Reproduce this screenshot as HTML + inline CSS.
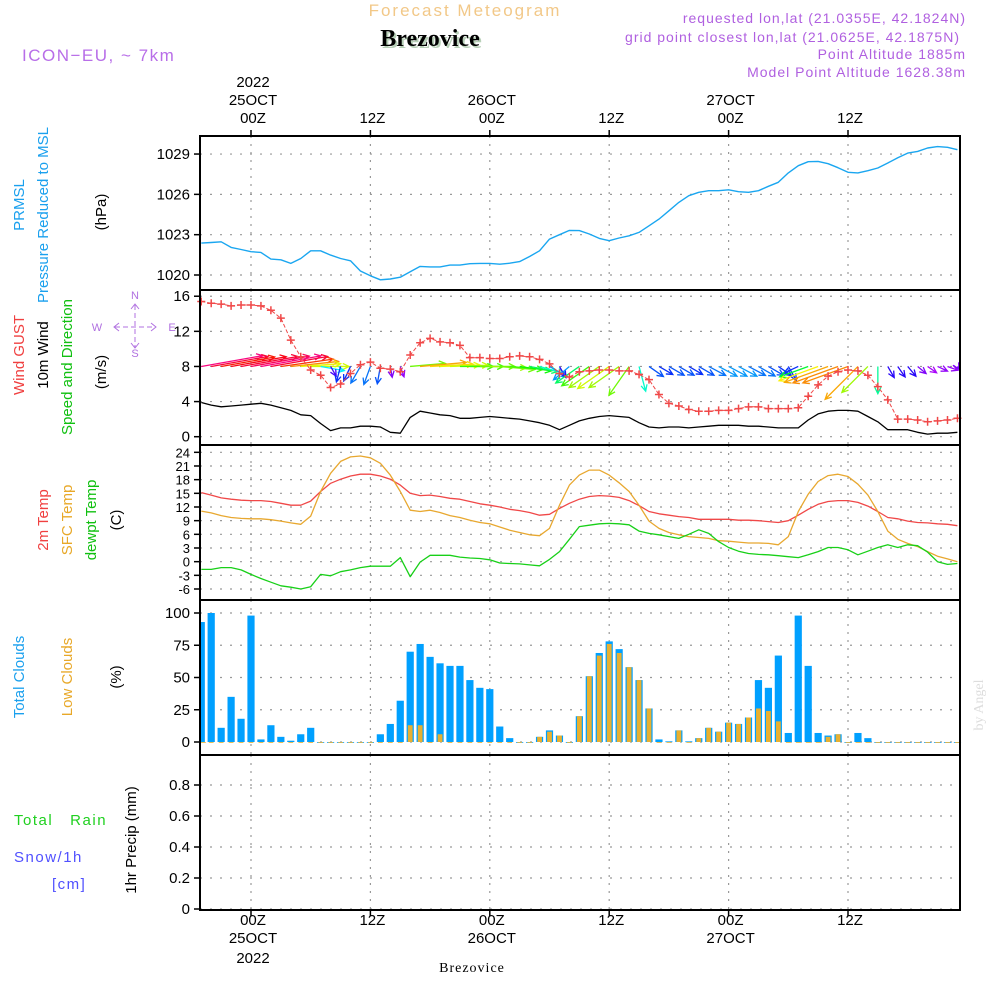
<!DOCTYPE html>
<html><head><meta charset="utf-8"><style>
html,body{margin:0;padding:0;background:#fff;}
svg{display:block;font-family:"Liberation Sans",sans-serif;}
</style></head><body>
<svg id="chart" width="1000" height="1000" viewBox="0 0 1000 1000">
<g id="header">
<text x="465" y="16" text-anchor="middle" font-size="17" fill="#f2c888" letter-spacing="2">Forecast Meteogram</text>
<text x="432" y="48" text-anchor="middle" font-size="24" font-weight="bold" font-family="Liberation Serif,serif" fill="#b8d0b8">Brezovice</text>
<text x="430" y="46" text-anchor="middle" font-size="24" font-weight="bold" font-family="Liberation Serif,serif" fill="#000">Brezovice</text>
<text x="22" y="61" font-size="17" fill="#b86ee8" letter-spacing="1.5">ICON−EU, ~ 7km</text>
<g font-size="14" fill="#b060e0" text-anchor="end" letter-spacing="1">
<text x="966" y="23">requested lon,lat (21.0355E, 42.1824N)</text>
<text x="960" y="42">grid point closest lon,lat (21.0625E, 42.1875N)</text>
<text x="966" y="59">Point Altitude 1885m</text>
<text x="966" y="77">Model Point Altitude 1628.38m</text>
</g>
</g>
<g id="grid"></g>
<g id="plots"></g>
<g id="frames"></g>
<g id="axes"></g>
<g id="labels" font-size="15">
<text transform="translate(24,205) rotate(-90)" text-anchor="middle" fill="#1aa0ee">PRMSL</text>
<text transform="translate(48,215) rotate(-90)" text-anchor="middle" fill="#1aa0ee">Pressure Reduced to MSL</text>
<text transform="translate(106,212) rotate(-90)" text-anchor="middle" fill="#000">(hPa)</text>
<text transform="translate(24,355) rotate(-90)" text-anchor="middle" fill="#f04040">Wind GUST</text>
<text transform="translate(48,355) rotate(-90)" text-anchor="middle" fill="#000">10m Wind</text>
<text transform="translate(72,367) rotate(-90)" text-anchor="middle" fill="#10c010">Speed and Direction</text>
<text transform="translate(106,372) rotate(-90)" text-anchor="middle" fill="#000">(m/s)</text>
<g fill="#b070e0" stroke="#b070e0" font-size="11">
<text x="135" y="299" text-anchor="middle" stroke="none">N</text>
<text x="135" y="357" text-anchor="middle" stroke="none">S</text>
<text x="97" y="331" text-anchor="middle" stroke="none">W</text>
<text x="172" y="331" text-anchor="middle" stroke="none">E</text>
<line x1="115" y1="327" x2="155" y2="327" stroke-width="1" stroke-dasharray="5,3"/>
<line x1="135" y1="305" x2="135" y2="348" stroke-width="1" stroke-dasharray="5,3"/>
<polyline points="119,323 114,327 119,331" fill="none"/><polyline points="151,323 156,327 151,331" fill="none"/>
<polyline points="131,309 135,304 139,309" fill="none"/><polyline points="131,343 135,348 139,343" fill="none"/>
</g>
<text transform="translate(48,520) rotate(-90)" text-anchor="middle" fill="#f04040">2m Temp</text>
<text transform="translate(72,520) rotate(-90)" text-anchor="middle" fill="#e8a828">SFC Temp</text>
<text transform="translate(96,520) rotate(-90)" text-anchor="middle" fill="#10c010">dewpt Temp</text>
<text transform="translate(121,520) rotate(-90)" text-anchor="middle" fill="#000">(C)</text>
<text transform="translate(24,677) rotate(-90)" text-anchor="middle" fill="#1aa0ee">Total Clouds</text>
<text transform="translate(72,677) rotate(-90)" text-anchor="middle" fill="#e8a828">Low Clouds</text>
<text transform="translate(121,677) rotate(-90)" text-anchor="middle" fill="#000">(%)</text>
<text x="14" y="825" fill="#20d020" letter-spacing="1.5" xml:space="preserve">Total   Rain</text>
<text x="14" y="862" fill="#5050ff" letter-spacing="1.5">Snow/1h</text>
<text x="52" y="889" fill="#5050ff" letter-spacing="1.5">[cm]</text>
<text transform="translate(136,840) rotate(-90)" text-anchor="middle" fill="#000">1hr Precip (mm)</text>
<text x="472" y="972" text-anchor="middle" font-size="14" font-family="Liberation Serif,serif" letter-spacing="1" fill="#000">Brezovice</text>
<text transform="translate(983,705) rotate(-90)" text-anchor="middle" font-size="14" font-family="Liberation Serif,serif" fill="#ddd">by Angel</text>
</g>
</svg>
<script>
const hourStart = -5;
const pressure = [1022.37,1022.42,1022.47,1022.05,1021.9,1021.73,1021.68,1021.18,1021.13,1020.86,1021.23,1021.8,1021.8,1021.48,1021.23,1021.06,1020.3,1019.94,1019.64,1019.7,1019.84,1020.24,1020.64,1020.6,1020.6,1020.74,1020.74,1020.84,1020.86,1020.86,1020.8,1020.88,1021.0,1021.38,1021.8,1022.67,1023.0,1023.32,1023.3,1023.05,1022.72,1022.55,1022.75,1022.92,1023.17,1023.66,1024.16,1024.78,1025.4,1025.9,1026.15,1026.27,1026.27,1026.34,1026.2,1026.15,1026.27,1026.6,1026.9,1027.6,1028.13,1028.43,1028.45,1028.28,1027.98,1027.64,1027.6,1027.76,1027.96,1028.33,1028.73,1029.07,1029.2,1029.45,1029.55,1029.5,1029.32];
const gust = [15.4,15.2,15.1,14.9,15.0,15.0,14.9,14.4,13.5,11.0,9.1,7.6,7.0,5.6,6.0,7.2,8.2,8.5,7.8,7.7,7.4,9.3,10.7,11.2,10.8,10.7,10.4,9.0,9.0,8.9,8.9,9.1,9.2,9.1,8.8,8.3,7.2,6.8,7.4,7.5,7.6,7.6,7.5,7.5,7.1,6.5,4.8,3.8,3.5,3.1,2.9,2.9,3.0,3.0,3.2,3.4,3.4,3.2,3.2,3.2,3.3,4.6,5.9,6.9,7.4,7.6,7.5,7.0,5.7,4.2,2.0,2.0,1.9,1.7,1.8,1.9,2.1];
const wind10 = [3.9,3.6,3.4,3.5,3.6,3.7,3.8,3.6,3.3,3.0,2.5,2.4,1.5,0.7,1.0,1.0,1.2,1.2,1.1,0.5,0.4,2.2,2.9,2.7,2.5,2.4,2.1,2.1,2.2,2.3,2.2,2.1,2.0,1.8,1.6,1.3,0.8,1.3,1.8,2.1,2.3,2.4,2.3,2.2,1.6,1.1,1.0,1.1,1.1,1.0,1.1,1.2,1.3,1.3,1.3,1.2,1.2,1.1,1.0,1.0,1.0,1.9,2.6,2.9,3.0,3.0,2.9,2.3,1.7,0.8,0.8,0.8,0.5,0.3,0.4,0.4,0.5];
const windTo = [80,80,80,80,80,80,80,80,82,84,86,90,100,150,195,205,210,200,190,170,160,85,85,87,88,88,90,90,90,92,95,95,98,100,105,120,150,230,235,235,235,235,235,215,165,125,120,120,120,120,120,118,118,118,118,118,120,120,125,150,245,250,250,250,250,250,225,225,180,150,145,140,130,125,115,110,105];
const temp2m = [15.15,14.6,14.0,13.7,13.5,13.4,13.4,13.2,12.8,12.4,12.4,13.3,15.4,17.2,18.1,18.8,19.2,19.2,18.8,18.1,16.8,15.0,14.5,14.6,14.3,13.9,13.7,13.2,12.7,12.4,12.0,11.5,11.2,10.8,10.2,10.4,11.7,12.8,13.7,14.3,14.5,14.4,14.1,13.4,12.3,11.0,10.5,10.2,9.9,9.7,9.3,9.3,9.3,9.3,9.1,9.1,9.0,8.8,8.6,9.0,10.2,11.5,12.6,13.2,13.4,13.4,13.0,12.2,11.0,9.7,9.4,8.9,8.6,8.5,8.3,8.2,7.9];
const tempSfc = [11.1,10.7,10.1,9.7,9.5,9.4,9.4,9.2,8.9,8.5,8.2,10.0,15.4,19.4,22.0,23.0,23.2,22.8,21.6,19.0,15.4,11.3,11.0,11.3,10.8,10.1,9.7,9.1,8.6,8.3,7.6,6.9,6.4,5.9,5.7,7.3,12.4,16.8,19.0,20.1,20.1,19.0,17.3,15.4,12.4,8.9,7.3,6.4,5.9,5.5,5.3,5.1,4.6,4.5,4.3,4.1,4.1,4.0,3.7,5.5,11.0,14.8,17.6,18.9,19.2,18.7,17.0,14.6,11.0,6.7,4.9,4.0,3.3,2.2,1.2,0.6,0.0];
const dewpt = [-1.7,-1.7,-1.3,-1.3,-1.8,-2.8,-3.7,-4.5,-5.3,-5.6,-6.0,-5.5,-2.8,-3.1,-2.2,-1.8,-1.3,-1.0,-1.0,-1.0,0.9,-3.3,-0.1,1.4,1.4,1.4,1.0,0.8,0.7,0.4,-0.3,-0.4,-0.5,-0.7,-0.9,0.5,2.2,4.9,7.7,8.0,8.3,8.4,8.3,8.1,6.7,6.2,5.9,5.5,5.1,6.0,7.0,6.2,4.4,3.1,2.3,1.8,1.6,1.5,1.3,1.1,0.9,1.5,2.2,3.1,3.1,2.6,1.5,2.3,3.1,3.7,3.1,3.7,3.5,2.1,0.0,-0.6,-0.4];
const totalClouds = [93,100,11,35,18,98,2,13,4,1,6,11,0,0,0,0,0,0,6,14,32,70,76,66,61,59,59,48,42,41,12,3,0,0,4,9,5,0,20,51,69,78,72,58,48,26,2,0.5,9,0.5,3,11,8,15,14,19,48,42,67,7,98,59,7,5,6,0,7,3,0,0,0,0,0,0,0,0,0];
const lowClouds = [0,0,0,0,0,0,0,0,0,0,0,0,0,0,0,0,0,0,0,0,0,13,13,0,6,0,0,0,0,0,0,0,0,0,4,8,5,0,20,51,67,76,69,58,48,26,0,0,9,0,3,11,8,15,14,19,26,24,16,0,0,0,0,4,6,0,0,0,0,0,0,0,0,0,0,0,0];
const precip = [];
const pressTicks = [1029,1026,1023,1020];
const windTicks = [16,12,8,4,0];
const tempTicks = [24,21,18,15,12,9,6,3,0,-3,-6];
const cloudTicks = [100,75,50,25,0];
const precipTicks = [0.8,0.6,0.4,0.2,0];
const precipTickLabels = ["0.8","0.6","0.4","0.2","0"];
const timeTicks = [0,12,24,36,48,60];
const timeLabels = ["00Z","12Z","00Z","12Z","00Z","12Z"];
const dayLabels = ["25OCT","","26OCT","","27OCT",""];

const NS = "http://www.w3.org/2000/svg";
const X0 = 200, X1 = 960;
function x(h){ return 251 + h*9.95; }
function py(v){ return 275 - (v-1020)*13.44; }
function wy(v){ return 436.7 - v*8.78; }
function ty(v){ return 589 - (v+6)*4.556; }
function cy(v){ return 742 - v*1.29; }
function ry(v){ return 909 - v*155; }
const panels = [
 {top:136,bot:290,ticks:pressTicks,labels:pressTicks.map(String),f:py,name:'pressure'},
 {top:290,bot:445,ticks:windTicks,labels:windTicks.map(String),f:wy,name:'wind'},
 {top:445,bot:600,ticks:tempTicks,labels:tempTicks.map(String),f:ty,name:'temp'},
 {top:600,bot:755,ticks:cloudTicks,labels:cloudTicks.map(String),f:cy,name:'clouds'},
 {top:755,bot:910,ticks:precipTicks,labels:precipTickLabels,f:ry,name:'precip'}
];
function mk(tag, attrs, parent){
  const e = document.createElementNS(NS, tag);
  for (const k in attrs) e.setAttribute(k, attrs[k]);
  parent.appendChild(e); return e;
}
const grid = document.getElementById('grid'), plots = document.getElementById('plots'),
 frames = document.getElementById('frames'), axes = document.getElementById('axes');

panels.forEach(p => {
  timeTicks.forEach(t => {
    const l = mk('line',{x1:x(t),x2:x(t),y1:p.top,y2:p.bot,stroke:'#999','stroke-width':1.2,'stroke-dasharray':'2,6'},grid);
    
    
  });
  p.ticks.forEach((v,i) => {
    const yy = p.f(v);
    const g = mk('line',{x1:X0,x2:X1,y1:yy,y2:yy,stroke:'#999','stroke-width':1.2,'stroke-dasharray':'2,8'},grid);
    
    
    mk('line',{x1:194,x2:X0,y1:yy,y2:yy,stroke:'#000','stroke-width':1.5},axes);
    const t = mk('text',{x:190,y:yy+5,'text-anchor':'end','font-size':p.name==='temp'?13:15,fill:'#000'},axes);
    t.textContent = p.labels[i];
    
    
  });
  const r = mk('rect',{x:X0,y:p.top,width:X1-X0,height:p.bot-p.top,fill:'none',stroke:'#000','stroke-width':2},frames);
  
  
});
timeTicks.forEach((t,i) => {
  mk('line',{x1:x(t),x2:x(t),y1:130,y2:136,stroke:'#000','stroke-width':1.5},axes);
  mk('line',{x1:x(t),x2:x(t),y1:910,y2:916,stroke:'#000','stroke-width':1.5},axes);
  const a = mk('text',{x:x(t)+2,y:123,'text-anchor':'middle','font-size':15,fill:'#000'},axes);
  a.textContent = timeLabels[i];
  
  
  const b = mk('text',{x:x(t)+2,y:925,'text-anchor':'middle','font-size':15,fill:'#000'},axes);
  b.textContent = timeLabels[i];
  
  
  if (dayLabels[i]) {
    const c = mk('text',{x:x(t)+2,y:105,'text-anchor':'middle','font-size':15,fill:'#000'},axes);
    c.textContent = dayLabels[i];
    
    
    const d = mk('text',{x:x(t)+2,y:943,'text-anchor':'middle','font-size':15,fill:'#000'},axes);
    d.textContent = dayLabels[i];
    
    
  }
});
const y1t = mk('text',{x:x(0)+2,y:87,'text-anchor':'middle','font-size':15,fill:'#000'},axes);
y1t.textContent = '2022';


const y2t = mk('text',{x:x(0)+2,y:963,'text-anchor':'middle','font-size':15,fill:'#000'},axes);
y2t.textContent = '2022';



function line(arr, f, color, name, w){
  const pts = arr.map((v,i)=> x(hourStart+i).toFixed(1)+','+f(v).toFixed(1)).join(' ');
  const pl = mk('polyline',{points:pts,fill:'none',stroke:color,'stroke-width':w||1.3,'stroke-linejoin':'round'},plots);
  
  
  return pl;
}
line(pressure, py, '#1aa6f0', 'pressure-line', 1.4);

const cg = mk('g',{},plots);
totalClouds.forEach((v,i)=>{
  const xc = x(hourStart+i);
  const left = Math.max(X0+1, xc-3.6);
  const b = mk('rect',{x:left,y:cy(v),width:Math.max(0,xc+3.6-left),height:Math.max(0.8,cy(0)-cy(v)),fill:'#00a0ff'},cg);
  
  
  const lv = lowClouds[i];
  const lb = mk('rect',{x:Math.max(X0+1,xc-2.4),y:cy(lv),width:4.8,height:Math.max(0.8,cy(0)-cy(lv)),fill:'#e8b030'},cg);
  
  
});

line(temp2m, ty, '#f04848', 'temp-2m-line');
line(tempSfc, ty, '#e8a830', 'temp-sfc-line');
line(dewpt, ty, '#18d018', 'dewpt-line');

line(wind10, wy, '#000', 'wind10-line');
function hueFor(s){
  const st=[0.3,0.6,1.0,1.4,1.9,2.4,2.9,3.4,3.8], hu=[280,265,230,195,130,70,40,5,-30];
  if (s<=st[0]) return hu[0];
  for (let k=1;k<st.length;k++) if (s<=st[k]) return hu[k-1]+(hu[k]-hu[k-1])*(s-st[k-1])/(st[k]-st[k-1]);
  return hu[hu.length-1];
}
const ag = mk('g',{},plots);
windTo.forEach((d,i)=>{
  const s = wind10[i];
  const L = Math.max(11, s*16);
  const a = d*Math.PI/180;
  const x0 = x(hourStart+i), y0 = wy(8);
  const x2 = Math.min(X1-1, x0 + Math.sin(a)*L), y2 = y0 - Math.cos(a)*L;
  let hh = hueFor(s); if (hh<0) hh+=360;
  const col = 'hsl('+hh.toFixed(0)+',95%,50%)';
  const hl = 7, ang = Math.atan2(y2-y0, x2-x0);
  const p1x = x2 - hl*Math.cos(ang-0.45), p1y = y2 - hl*Math.sin(ang-0.45);
  const p2x = x2 - hl*Math.cos(ang+0.45), p2y = y2 - hl*Math.sin(ang+0.45);
  const ar = mk('path',{d:'M'+x0+','+y0+'L'+x2+','+y2+'M'+p1x+','+p1y+'L'+x2+','+y2+'L'+p2x+','+p2y,fill:'none',stroke:col,'stroke-width':1.3},ag);
  
  
});
const gl = line(gust, wy, '#f04848', 'gust-line', 1);
gl.setAttribute('stroke-dasharray','4,2');
const gm = mk('g',{stroke:'#f04848','stroke-width':1.5},plots);
gust.forEach((v,i)=>{
  const xx = x(hourStart+i), yy = wy(v);
  const m = mk('path',{d:'M'+(xx-4)+','+yy+'h8M'+xx+','+(yy-4)+'v8'},gm);
  
  
});
</script>
</body></html>
